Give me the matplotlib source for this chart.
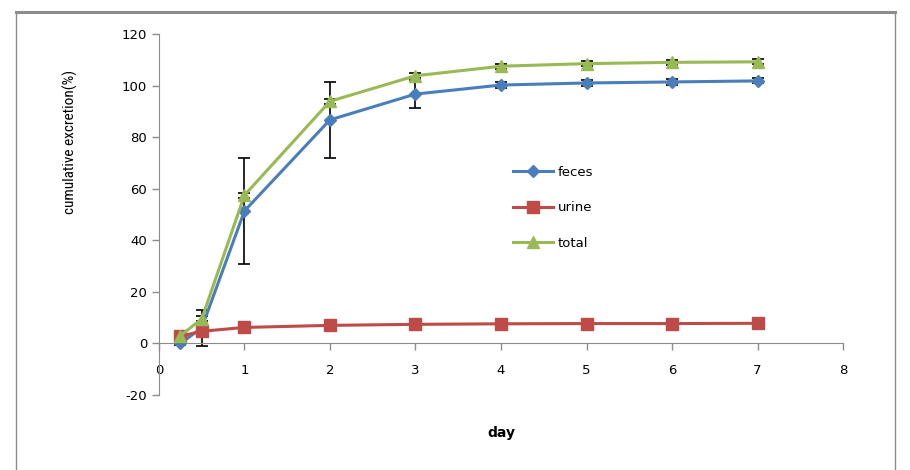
import matplotlib.pyplot as plt
from matplotlib.patches import Rectangle
from matplotlib.lines import Line2D

plt.rcParams['axes.unicode_minus'] = False

# days after dosing
days = [0.25, 0.5, 1, 2, 3, 4, 5, 6, 7]

# cumulative excretion (%)
feces = [0.0, 6.0, 51.4, 86.7, 96.7, 100.2, 101.0, 101.4, 101.8]
urine = [2.8, 4.7, 6.2, 7.0, 7.4, 7.6, 7.7, 7.7, 7.8]
total = [3.0, 9.5, 57.5, 93.9, 103.8, 107.5, 108.5, 109.0, 109.2]

# standard deviations
feces_sd = [0.5, 7.0, 20.5, 14.8, 5.5, 1.0, 1.0, 1.0, 1.0]
urine_sd = [0.3, 0.5, 0.5, 0.5, 0.5, 0.5, 0.5, 0.5, 0.5]
total_sd = [0.5, 1.0, 1.0, 1.0, 1.0, 1.0, 1.0, 1.0, 1.0]

x_ticks = [0, 1, 2, 3, 4, 5, 6, 7, 8]
y_ticks = [-20, 0, 20, 40, 60, 80, 100, 120]

fig = plt.figure(figsize=(9.1, 4.7), dpi=100)
ax = fig.add_axes([0.1747, 0.1596, 0.7517, 0.7681])

# outer chart frame
fig.patches.append(Rectangle((16 / 910, -0.05), 879 / 910, 1 - 12 / 470 + 0.05,
                             transform=fig.transFigure, fill=False,
                             edgecolor='#8c8c8c', linewidth=1.0))
fig.lines.append(Line2D([16 / 910, 895 / 910], [1 - 12 / 470, 1 - 12 / 470],
                        transform=fig.transFigure, color='#8c8c8c', linewidth=2.2))

series = [
    (feces, feces_sd, '#4a7ebb', 'D', 6.5, 'feces'),
    (urine, urine_sd, '#be4b48', 's', 8, 'urine'),
    (total, total_sd, '#98b954', '^', 8, 'total'),
]
handles = []
for vals, sd, col, mk, ms, lab in series:
    ax.errorbar(days, vals, yerr=sd, fmt='none', ecolor='black', elinewidth=1.2,
                capsize=4, capthick=1.2, zorder=2)
    line, = ax.plot(days, vals, color=col, marker=mk, markersize=ms, linewidth=2.2,
                    label=lab, zorder=3)
    handles.append(line)

ax.set_xlim(0, 8)
ax.set_ylim(-20, 120)
ax.set_xticks(x_ticks)
ax.set_yticks(y_ticks)

for s in ['top', 'right']:
    ax.spines[s].set_visible(False)
ax.spines['bottom'].set_position(('data', 0))
ax.spines['bottom'].set_color('#8c8c8c')
ax.spines['left'].set_color('#8c8c8c')
ax.tick_params(axis='both', colors='#8c8c8c', labelcolor='black', labelsize=9.5,
               length=5, width=1)
ax.tick_params(axis='x', pad=10)

ax.set_xlabel('day', fontsize=10, fontweight='bold')
ax.xaxis.set_label_coords(0.5, -0.085)
ax.set_ylabel('cumulative excretion(%)', fontsize=11,
              family=['Roboto Condensed', 'Liberation Sans Narrow', 'Roboto'])
ax.yaxis.set_label_coords(-0.118, 0.70)

ax.legend(handles=handles, loc='center left', bbox_to_anchor=(0.5175, 0.518),
          frameon=False, fontsize=9.5, labelspacing=1.7, handlelength=3.0,
          handletextpad=0.4, borderpad=0, borderaxespad=0)

fig.savefig('out.png', dpi=100)
